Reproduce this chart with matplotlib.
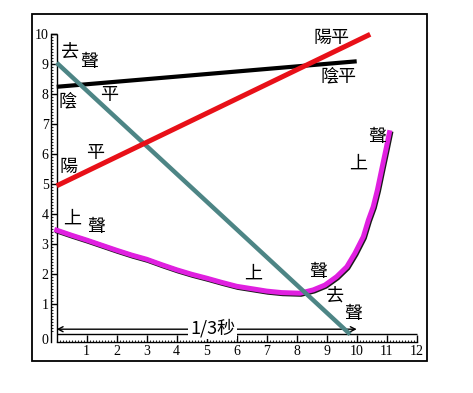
import matplotlib
matplotlib.use("Agg")
import matplotlib.pyplot as plt
from matplotlib.patches import Rectangle
from matplotlib.ticker import FixedLocator
import matplotlib.patheffects as pe
import numpy as np

# ---- data ----
yinping_x = [0, 10]
yinping_y = [8.25, 9.1]
yangping_x = [0, 10.45]
yangping_y = [4.95, 10.0]
qusheng_x = [0, 9.78]
qusheng_y = [9.05, 0.0]
shangsheng_x = [0, 0.5, 1, 1.5, 2, 2.5, 3, 3.5, 4, 4.5, 5, 5.5, 6, 6.5, 7, 7.5, 8.11,
                8.55, 8.94, 9.33, 9.67, 9.94, 10.22, 10.39, 10.55, 10.69, 10.83, 10.97, 11.09]
shangsheng_y = [3.47, 3.3, 3.14, 2.97, 2.8, 2.64, 2.5, 2.32, 2.15, 2.0, 1.87, 1.73, 1.6, 1.52,
                1.44, 1.39, 1.37, 1.48, 1.64, 1.92, 2.25, 2.7, 3.25, 3.81, 4.25, 4.81, 5.48,
                6.14, 6.72]
x_ticks = list(range(1, 13))
y_ticks = list(range(1, 11))
span_label = "1/3秒"

W, H = 473, 393
fig = plt.figure(figsize=(W / 100, H / 100), dpi=100)
fig.patch.set_facecolor("white")

# outer frame
fig.add_artist(Rectangle((32 / W, (H - 361) / H), (427 - 32) / W, (361 - 14) / H,
                         transform=fig.transFigure, fill=False, edgecolor="black", lw=1.3))

# axes: 30 px per unit, origin at (56.7, 334.3) px from top-left
ppu = 30.0
x0, y0 = 56.7, 334.3
ax = fig.add_axes([0, 0, 1, 1])
ax.set_xlim(-x0 / ppu, (W - x0) / ppu)
ax.set_ylim(-(H - y0) / ppu, y0 / ppu)
ax.patch.set_visible(False)
for s in ["top", "right"]:
    ax.spines[s].set_visible(False)

ax.spines["bottom"].set_position(("data", -0.25))
ax.spines["bottom"].set_bounds(0, 12)
ax.spines["left"].set_position(("data", -0.2))
ax.spines["left"].set_bounds(-0.25, 10)
for s in ["bottom", "left"]:
    ax.spines[s].set_linewidth(1.0)

ax.xaxis.set_major_locator(FixedLocator(x_ticks))
ax.yaxis.set_major_locator(FixedLocator(y_ticks))
ax.xaxis.set_minor_locator(FixedLocator(np.arange(1, 120) / 10.0))
ax.yaxis.set_minor_locator(FixedLocator(np.arange(1, 100) / 10.0))
ax.tick_params(axis="x", which="major", direction="in", length=5.3, width=1.0, pad=2.5,
               labelsize=10)
ax.tick_params(axis="y", which="major", direction="in", length=4.3, width=1.0, pad=1.5,
               labelsize=10)
ax.tick_params(which="minor", direction="in", length=1.3, width=0.6)
ax.set_xticklabels([str(t) for t in x_ticks], family="Liberation Serif")
ax.set_yticklabels([str(t) for t in y_ticks], family="Liberation Serif")
ax.text(-0.27, -0.22, "0", ha="right", va="center", fontsize=10, family="Liberation Serif")

# ruler inner lines
ax.hlines(0, 0, 12, color="black", lw=1.0)
ax.vlines(0, -0.25, 10, color="black", lw=1.0)
ax.hlines(10, -0.2, 0, color="black", lw=1.0)

# data lines
ax.plot(yinping_x, yinping_y, color="black", lw=3.0, solid_capstyle="butt", zorder=3)
ax.plot(shangsheng_x, shangsheng_y, color="#e020e0", lw=3.6, zorder=4,
        solid_joinstyle="round",
        path_effects=[pe.SimpleLineShadow(offset=(0.8, -0.8), shadow_color="black", alpha=0.9),
                      pe.Normal()])
ax.plot(qusheng_x, qusheng_y, color="#4d8585", lw=3.2, solid_capstyle="butt", zorder=5)
ax.plot(yangping_x, yangping_y, color="#e81018", lw=3.6, solid_capstyle="butt", zorder=6)

# span arrow
ax.annotate("", xy=(0, 0.17), xytext=(10, 0.17),
            arrowprops=dict(arrowstyle="<->,head_length=0.35,head_width=0.18", lw=1.0,
                            color="black", shrinkA=0, shrinkB=0), zorder=2)
ax.text(5.2, 0.22, span_label, ha="center", va="center", fontsize=13,
        family=["Noto Sans CJK TC", "DejaVu Sans"],
        bbox=dict(facecolor="white", edgecolor="none", pad=1.5), zorder=2.5)

cjk = dict(fontsize=13, family=["Noto Sans CJK TC", "DejaVu Sans"], ha="center", va="center",
           zorder=7)
labels = [
    ("去", 0.44, 9.38), ("聲", 1.10, 9.09),
    ("陰", 0.37, 7.75), ("平", 1.74, 7.98),
    ("陽", 0.40, 5.59), ("平", 1.29, 6.03),
    ("上", 0.53, 3.87), ("聲", 1.33, 3.57),
    ("陽平", 9.17, 9.87), ("陰平", 9.39, 8.59),
    ("聲", 10.67, 6.59), ("上", 10.05, 5.70),
    ("上", 6.55, 2.03), ("聲", 8.72, 2.09),
    ("去", 9.28, 1.25), ("聲", 9.89, 0.68),
]
for t, x, y in labels:
    ax.text(x, y, t, **cjk)

fig.savefig("out.png", dpi=100, facecolor="white")
